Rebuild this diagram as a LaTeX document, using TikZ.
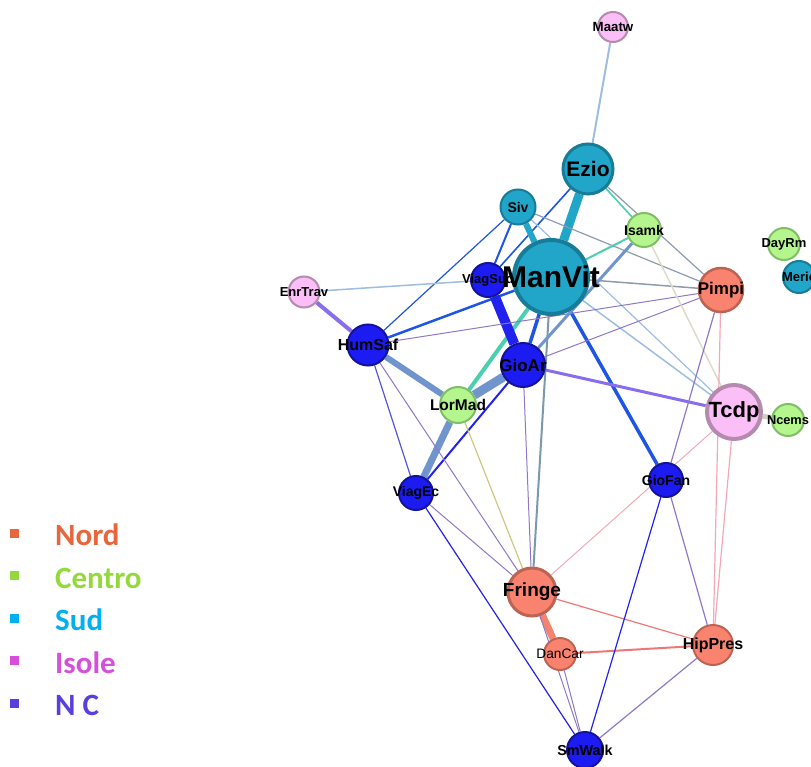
\documentclass[tikz,border=0pt]{standalone}
\usepackage{fontspec}
\setmainfont{Liberation Sans}
\newfontfamily\legfont{Carlito}
\usetikzlibrary{backgrounds}

\definecolor{sudfill}{HTML}{21A6CA}
\definecolor{suddraw}{HTML}{167C98}
\definecolor{ncfill}{HTML}{1C1CF2}
\definecolor{ncdraw}{HTML}{13139A}
\definecolor{centrofill}{HTML}{B5F58E}
\definecolor{centrodraw}{HTML}{80BE66}
\definecolor{nordfill}{HTML}{FA8370}
\definecolor{norddraw}{HTML}{BD6352}
\definecolor{isolefill}{HTML}{FBBEF6}
\definecolor{isoledraw}{HTML}{B48AAF}

\definecolor{sudE}{HTML}{21A6CA}
\definecolor{blueE}{HTML}{1F55E5}
\definecolor{nblue}{HTML}{2222EE}
\definecolor{steel}{HTML}{7094CC}
\definecolor{steelg}{HTML}{7C98AC}
\definecolor{teal}{HTML}{4BCFAE}
\definecolor{greyE}{HTML}{8C9CAC}
\definecolor{lblue}{HTML}{9DBDE2}
\definecolor{purpl}{HTML}{8F78C8}
\definecolor{violet}{HTML}{8A6CEE}
\definecolor{ncline}{HTML}{5555DD}
\definecolor{pinkE}{HTML}{F2A8B8}
\definecolor{salmon}{HTML}{F3846E}
\definecolor{redE}{HTML}{EE7878}
\definecolor{yellE}{HTML}{CFC680}
\definecolor{paleE}{HTML}{DEDCC8}
\definecolor{ncemsE}{HTML}{CFCFC4}

\definecolor{nordc}{HTML}{E8663C}
\definecolor{centroc}{HTML}{94D93C}
\definecolor{sudc}{HTML}{00B0F0}
\definecolor{isolec}{HTML}{D64FDB}
\definecolor{ncc}{HTML}{5A3FE0}

\begin{document}
\begin{tikzpicture}[x=1pt,y=-1pt,
  vtx/.style={circle,inner sep=0pt,line width=2pt},
  sud/.style={vtx,fill=sudfill,draw=suddraw},
  nc/.style={vtx,fill=ncfill,draw=ncdraw},
  centro/.style={vtx,fill=centrofill,draw=centrodraw},
  nord/.style={vtx,fill=nordfill,draw=norddraw},
  isole/.style={vtx,fill=isolefill,draw=isoledraw},
  lab/.style={font=\fontsize{#1}{#1}\selectfont\bfseries,inner sep=0pt},
  labr/.style={font=\fontsize{#1}{#1}\selectfont,inner sep=0pt},
  legsq/.style={rectangle,inner sep=0pt,minimum size=9pt},
  legtx/.style={font=\legfont\fontsize{31}{31}\selectfont\bfseries,anchor=base west,inner sep=0pt}]
  \useasboundingbox (0,0) rectangle (811,767);

  \node[isole,minimum size=30pt,label={[lab=13.3]center:Maatw}] (Maatw) at (613,27) {};
  \node[sud,minimum size=50pt,line width=3pt,label={[lab=21]center:Ezio}] (Ezio) at (588,169) {};
  \node[sud,minimum size=35pt,label={[lab=14]center:Siv}] (Siv) at (518,207) {};
  \node[centro,minimum size=34pt,label={[lab=14]center:Isamk}] (Isamk) at (644,230) {};
  \node[nc,minimum size=34pt,label={[lab=13]center:ViagSud}] (ViagSud) at (488,280) {};
  \node[sud,minimum size=74pt,line width=4pt,label={[lab=30]center:ManVit}] (ManVit) at (551,277) {};
  \node[isole,minimum size=31pt,label={[lab=13]center:EnrTrav}] (EnrTrav) at (304,292) {};
  \node[nord,minimum size=44pt,line width=2.5pt,label={[lab=17]center:Pimpi}] (Pimpi) at (721,290) {};
  \node[centro,minimum size=32pt,label={[lab=13]center:DayRm}] (DayRm) at (784,244) {};
  \node[sud,minimum size=32pt,label={[lab=13]center:Meric}] (Meric) at (799,277) {};
  \node[nc,minimum size=41pt,label={[lab=16]center:HumSaf}] (HumSaf) at (368,345) {};
  \node[nc,minimum size=44pt,label={[lab=17]center:GioAr}] (GioAr) at (523,365) {};
  \node[centro,minimum size=36pt,label={[lab=15.5]center:LorMad}] (LorMad) at (458,405) {};
  \node[isole,minimum size=54pt,line width=4pt,label={[lab=22]center:Tcdp}] (Tcdp) at (734,412) {};
  \node[centro,minimum size=32pt,label={[lab=12.8]center:Ncems}] (Ncems) at (788,420) {};
  \node[nc,minimum size=34pt,label={[lab=14]center:ViagEc}] (ViagEc) at (416,493) {};
  \node[nc,minimum size=34pt,label={[lab=14]center:GioFan}] (GioFan) at (666,480) {};
  \node[nord,minimum size=48pt,line width=3pt,label={[lab=19]center:Fringe}] (Fringe) at (532,592) {};
  \node[nord,minimum size=32pt,label={[labr=13.7]center:DanCar}] (DanCar) at (560,654) {};
  \node[nord,minimum size=40pt,label={[lab=16]center:HipPres}] (HipPres) at (713,645) {};
  \node[nc,minimum size=36pt,label={[lab=14.4]center:SmWalk}] (SmWalk) at (585,750) {};

  \begin{scope}[on background layer]
  \foreach \a/\b/\c/\w in {Maatw/Ezio/lblue/2, Ezio/ManVit/sudE/9, Ezio/Isamk/teal/1.6,
    Ezio/Pimpi/greyE/1.2, Ezio/ViagSud/blueE/1.6, Siv/ManVit/sudE/6, Siv/ViagSud/blueE/2,
    Siv/HumSaf/blueE/1.2, Siv/Pimpi/greyE/1.2, Siv/Tcdp/lblue/1.2, ManVit/Isamk/teal/2,
    ManVit/Pimpi/greyE/1.5, ManVit/Tcdp/lblue/1.5, ManVit/GioFan/blueE/3.5,
    ManVit/GioAr/blueE/3.5, ManVit/LorMad/teal/4, ManVit/Fringe/steelg/2,
    ManVit/HumSaf/blueE/2.5, ViagSud/GioAr/nblue/10, EnrTrav/ViagSud/lblue/1.5,
    EnrTrav/HumSaf/violet/4, HumSaf/LorMad/steel/6, LorMad/GioAr/steel/9,
    LorMad/ViagEc/steel/7, GioAr/ViagEc/nblue/2, HumSaf/ViagEc/ncline/1.2,
    HumSaf/Fringe/purpl/1, HumSaf/Pimpi/purpl/1, LorMad/Fringe/yellE/1.2,
    GioAr/Fringe/purpl/1, GioAr/Pimpi/purpl/1, GioAr/Tcdp/violet/3, Isamk/GioAr/steel/3,
    Isamk/Tcdp/paleE/1.5, Fringe/Tcdp/pinkE/1, Fringe/HipPres/redE/1.2,
    Fringe/DanCar/salmon/7, DanCar/HipPres/redE/2, Fringe/SmWalk/purpl/1,
    DanCar/SmWalk/purpl/1, HipPres/SmWalk/purpl/1.2, GioFan/SmWalk/nblue/1.2,
    GioFan/Pimpi/purpl/1.2, GioFan/HipPres/purpl/1.2, Pimpi/HipPres/pinkE/1.2,
    Tcdp/HipPres/pinkE/1.2, Tcdp/Ncems/ncemsE/5, ViagEc/SmWalk/nblue/1.2,
    ViagEc/Fringe/purpl/1}
    \draw[\c,line width=\w pt] (\a) -- (\b);
  \end{scope}

  \foreach \t/\c [count=\i] in {Nord/nordc,Centro/centroc,Sud/sudc,Isole/isolec,N C/ncc} {
    \node[legsq,fill=\c] (sq\i) at (14,{533+42.5*(\i-1)}) {};
    \node[legtx,text=\c] (leg\i) at (55,{545.5+42.5*(\i-1)}) {\t};
  }
\end{tikzpicture}
\end{document}
